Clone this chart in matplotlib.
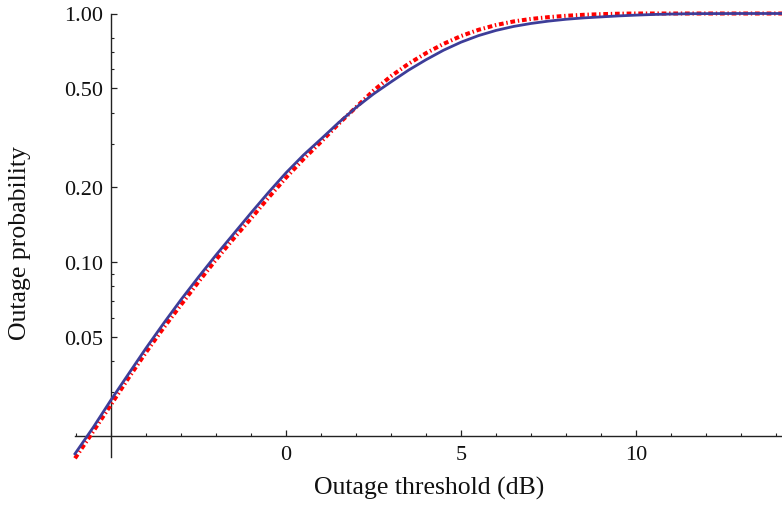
import matplotlib
matplotlib.use("Agg")
import matplotlib.pyplot as plt
from matplotlib.ticker import FixedLocator, FixedFormatter, NullFormatter

# ---- data ----
x_blue = [-6.03, -5.5, -5, -4.5, -4, -3.5, -3, -2.5, -2, -1.5, -1, -0.5, 0, 0.5, 1, 1.5,
          2, 2.5, 3, 3.5, 4, 4.5, 5, 5.5, 6, 6.5, 7, 7.5, 8, 8.5, 9, 9.5, 10, 10.5,
          11, 11.5, 12, 13, 14.17]
p_blue = [0.0170, 0.0218, 0.0280, 0.0356, 0.0452, 0.0568, 0.0708, 0.0873, 0.107, 0.130,
          0.158, 0.191, 0.229, 0.270, 0.313, 0.364, 0.419, 0.475, 0.531, 0.592, 0.652,
          0.712, 0.767, 0.815, 0.855, 0.887, 0.912, 0.932, 0.948, 0.960, 0.969, 0.978,
          0.985, 0.991, 0.995, 0.998, 0.999, 1.0, 1.0]

x_red = [-6.03, -5.5, -5, -4.5, -4, -3.5, -3, -2.5, -2, -1.5, -1, -0.5, 0, 0.5, 1, 1.5,
         2, 2.5, 3, 3.5, 4, 4.5, 5, 5.5, 6, 6.5, 7, 7.5, 8, 8.5, 9, 9.5, 10, 11, 12,
         13, 14.17]
p_red = [0.0163, 0.0210, 0.0268, 0.0343, 0.0435, 0.0545, 0.0675, 0.0835, 0.1025, 0.1245,
         0.150, 0.182, 0.219, 0.260, 0.305, 0.360, 0.420, 0.490, 0.560, 0.628, 0.693,
         0.755, 0.812, 0.860, 0.899, 0.929, 0.951, 0.967, 0.979, 0.988, 0.994, 0.998,
         1.0, 1.0, 1.0, 1.0, 1.0]

x_major = [0, 5, 10]
x_major_labels = ["0", "5", "10"]
x_minor = [-6, -5, -4, -3, -2, -1, 1, 2, 3, 4, 6, 7, 8, 9, 11, 12, 13, 14]
y_major = [0.05, 0.10, 0.20, 0.50, 1.00]
y_major_labels = ["0.05", "0.10", "0.20", "0.50", "1.00"]
y_minor = [0.03, 0.04, 0.06, 0.07, 0.08, 0.09, 0.3, 0.4, 0.6, 0.7, 0.8]

x_label = "Outage threshold (dB)"
y_label = "Outage probability"

# ---- figure ----
plt.rcParams['lines.scale_dashes'] = False
W, H = 782, 506
fig = plt.figure(figsize=(W / 100, H / 100), dpi=100)
ax = fig.add_axes([75 / W, (H - 458) / H, 707 / W, 443.5 / H])
ax.set_yscale('log')
ax.set_xlim(-6.03, 14.17)
ax.set_ylim(0.0165, 1.0)

ax.plot(x_red, p_red, color='#ff0000', lw=2.9, dashes=(3.4, 2.0, 1.0, 2.0),
        solid_capstyle='butt', clip_on=False, zorder=3)
ax.plot(x_blue, p_blue, color='#3d3d99', lw=2.0, clip_on=False, zorder=4)

for s in ['top', 'right']:
    ax.spines[s].set_visible(False)
ax.spines['left'].set_position(('data', -5))
ax.spines['bottom'].set_position(('data', 0.02))
for s in ['left', 'bottom']:
    ax.spines[s].set_color('#222222')
    ax.spines[s].set_linewidth(1.0)

serif = 'Liberation Serif'
ax.xaxis.set_major_locator(FixedLocator(x_major))
ax.xaxis.set_major_formatter(FixedFormatter(x_major_labels))
ax.xaxis.set_minor_locator(FixedLocator(x_minor))
ax.xaxis.set_minor_formatter(NullFormatter())
ax.yaxis.set_major_locator(FixedLocator(y_major))
ax.yaxis.set_major_formatter(FixedFormatter(y_major_labels))
ax.yaxis.set_minor_locator(FixedLocator(y_minor))
ax.yaxis.set_minor_formatter(NullFormatter())

ax.tick_params(which='major', direction='in', length=4.5, width=0.9, color='#222222',
               labelsize=16, labelcolor='#111111')
ax.tick_params(which='minor', direction='in', length=2.5, width=0.8, color='#222222')
ax.tick_params(axis='x', which='major', pad=6)
ax.tick_params(axis='y', which='major', pad=6)
for lab in ax.get_xticklabels() + ax.get_yticklabels():
    lab.set_fontfamily(serif)

fig.text(429 / W, 1 - 488 / H, x_label, ha='center', va='center',
         fontsize=18.5, family=serif, color='#111111')
fig.text(20 / W, 1 - 243 / H, y_label, ha='center', va='center', rotation=90,
         fontsize=18.5, family=serif, color='#111111')

fig.savefig('out.png', dpi=100)
